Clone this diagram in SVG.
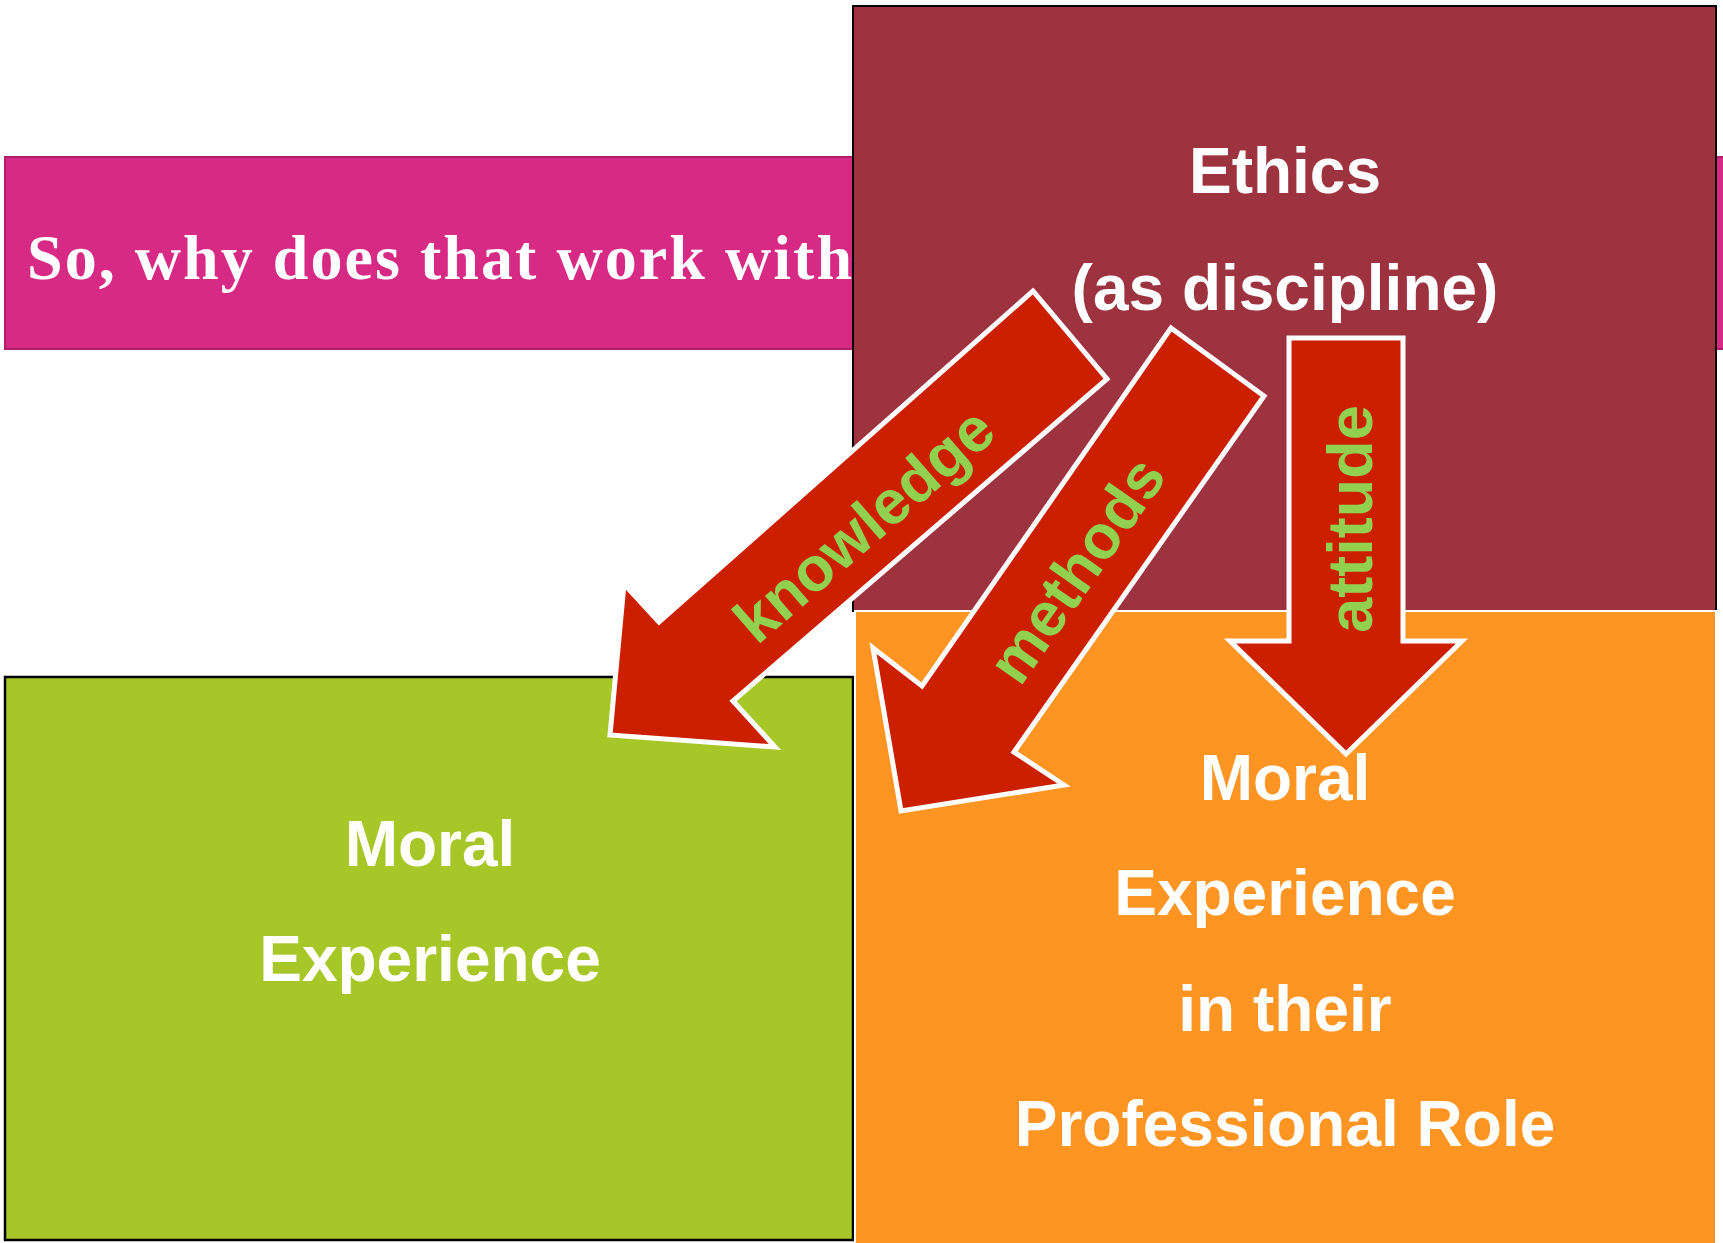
<svg xmlns="http://www.w3.org/2000/svg" width="1723" height="1243" viewBox="0 0 1723 1243">
<style>
.lbl{font-family:"Liberation Sans",Arial,sans-serif;font-weight:bold;font-size:64px;fill:#ffffff;text-anchor:middle}
.arr{fill:#cc1f00;stroke:#ffffff;stroke-width:5;stroke-linejoin:miter}
.alb{font-family:"Liberation Sans",Arial,sans-serif;font-weight:bold;font-size:62px;fill:#92d050;text-anchor:middle}
</style>
<rect x="0" y="0" width="1723" height="1243" fill="#ffffff"/>
<g id="node-title">
<rect x="5" y="157" width="1720" height="192" fill="#d62a84" stroke="#ad1f69" stroke-width="2"/>
<text x="27" y="279" font-family="'Liberation Serif','Times New Roman',serif" font-weight="bold" font-size="64" fill="#ffffff" textLength="825" lengthAdjust="spacing">So, why does that work with</text>
</g>
<g id="node-ethics">
<rect x="853" y="6" width="863" height="605" fill="#9e3340" stroke="#000000" stroke-width="2"/>
<text class="lbl" x="1285" y="193">Ethics</text>
<text class="lbl" x="1285" y="310">(as discipline)</text>
</g>
<g id="node-moral-experience">
<rect x="5" y="677" width="848" height="563" fill="#a6c727" stroke="#000000" stroke-width="2.5"/>
<text class="lbl" x="430" y="866">Moral</text>
<text class="lbl" x="430" y="981">Experience</text>
</g>
<g id="node-professional">
<rect x="855" y="611" width="861" height="634" fill="#fe9422" stroke="#ffffff" stroke-width="2"/>
<text class="lbl" x="1285" y="800">Moral</text>
<text class="lbl" x="1285" y="915">Experience</text>
<text class="lbl" x="1285" y="1031">in their</text>
<text class="lbl" x="1285" y="1146">Professional Role</text>
</g>
<g id="connectors">
<g id="arrow-knowledge">
<polygon class="arr" points="1033,291 1107,379 733,701 775,747 610,735 624,584 659,622"/>
<text class="alb" transform="translate(878,541) rotate(-41)">knowledge</text>
</g>
<g id="arrow-methods">
<polygon class="arr" points="1171,328 1264,396 1014,752 1064,785 901,811 873,648 922,686"/>
<text class="alb" transform="translate(1094,582) rotate(-55)">methods</text>
</g>
<g id="arrow-attitude">
<polygon class="arr" points="1289,338 1403,338 1403,641 1462,641 1346,754 1230,641 1289,641"/>
<text class="alb" transform="translate(1372,519) rotate(-90)" style="font-size:63px">attitude</text>
</g>
</g>
</svg>
